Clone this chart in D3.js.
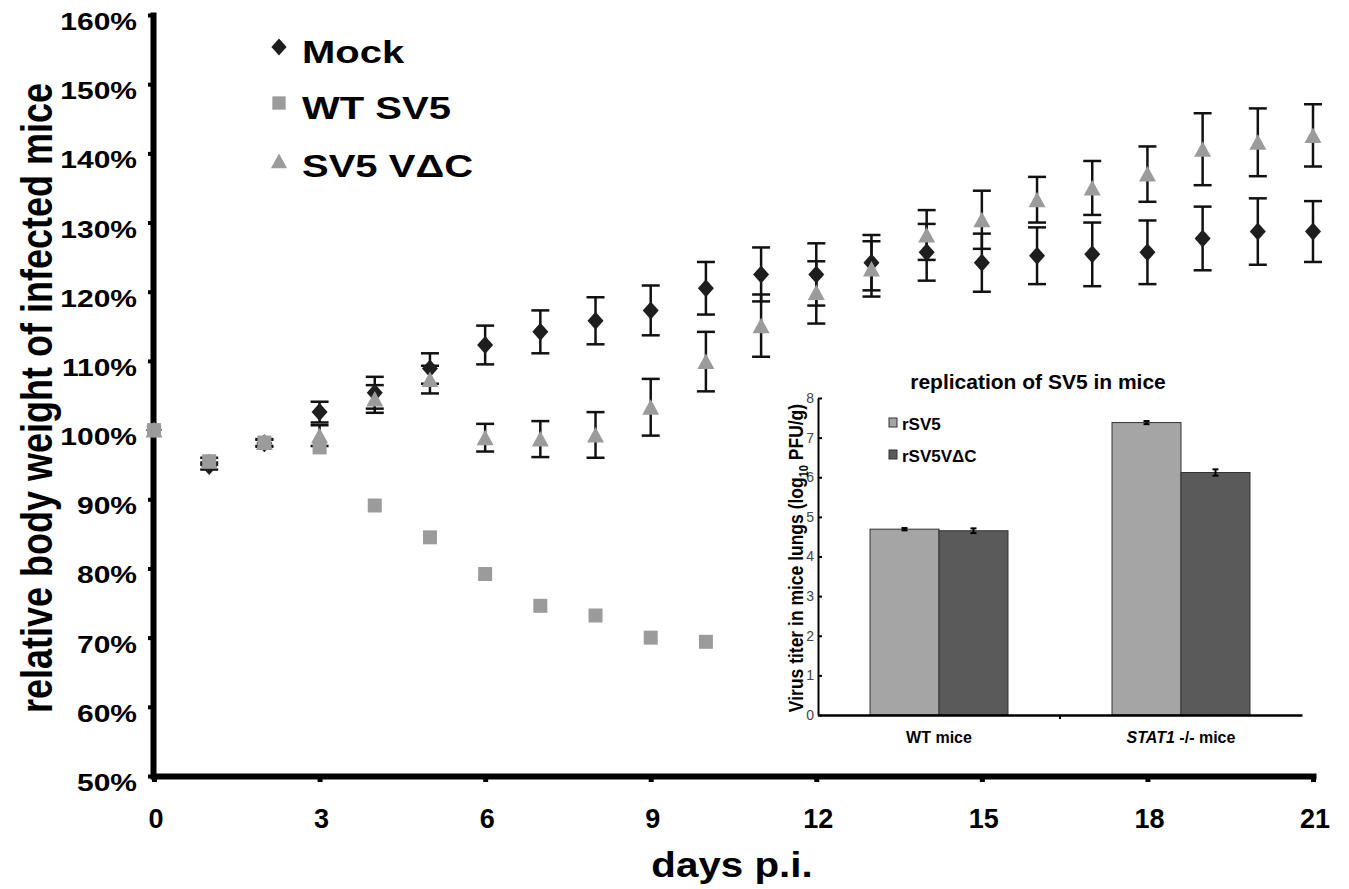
<!DOCTYPE html>
<html>
<head>
<meta charset="utf-8">
<script src="https://cdn.jsdelivr.net/npm/d3@7"></script>
<style>
body { margin: 0; background: #fff; }
text { font-family: Arial, "Liberation Sans", Helvetica, sans-serif; }
</style>
</head>
<body>
<div class="chart-container"></div>
<script>
const width = 1349;
const height = 889;

// main chart data (relative body weight, %)
const days = [0, 1, 2, 3, 4, 5, 6, 7, 8, 9, 10, 11, 12, 13, 14, 15, 16, 17, 18, 19, 20, 21];
const mock = [100, 94.8, 98.1, 102.6, 105.4, 108.9, 112.3, 114.2, 115.8, 117.3, 120.5, 122.5, 122.5, 124.2, 125.7, 124.2, 125.2, 125.4, 125.7, 127.7, 128.7, 128.7];
const mockErr = [0, 0.5, 0.5, 1.5, 2.3, 2.2, 2.8, 3.1, 3.4, 3.6, 3.8, 3.9, 4.5, 4.0, 4.1, 4.2, 4.1, 4.6, 4.6, 4.6, 4.8, 4.4];
const wtDays = [0, 1, 2, 3, 4, 5, 6, 7, 8, 9, 10];
const wtSV5 = [100, 95.5, 98.2, 97.5, 89.1, 84.5, 79.2, 74.6, 73.2, 70.0, 69.4];
const vdc = [100, 95.5, 98.2, 99.2, 104.5, 107.3, 98.9, 98.7, 99.3, 103.3, 109.9, 115.1, 119.9, 123.3, 128.2, 130.4, 133.3, 135.0, 137.0, 140.6, 141.6, 142.6];
const vdcErr = [0, 0.5, 0.5, 1.5, 2.0, 2.0, 2.0, 2.6, 3.3, 4.1, 4.3, 4.5, 4.5, 4.0, 3.6, 4.2, 3.3, 3.9, 4.0, 5.2, 4.9, 4.5];
const yTicks = [50, 60, 70, 80, 90, 100, 110, 120, 130, 140, 150, 160];
const xTicks = [0, 3, 6, 9, 12, 15, 18, 21];
const legendLabels = ["Mock", "WT SV5", "SV5 V\u0394C"];

// inset data (log10 PFU/g)
const insetGroups = ["WT mice", "STAT1 -/- mice"];
const insetSeries = ["rSV5", "rSV5V\u0394C"];
const titerRSV5 = [4.69, 7.38];
const titerRSV5Err = [0.03, 0.04];
const titerVdc = [4.65, 6.12];
const titerVdcErr = [0.06, 0.08];
const insetTicks = [0, 1, 2, 3, 4, 5, 6, 7, 8];

const dark = "#1e1e1e";
const gray = "#9b9b9b";

const shapes = {
    diamond: "M0,-9L8,0L0,9L-8,0Z",
    square: "M-7,-7H7V7H-7Z",
    triangle: "M0,-8L8.5,7.5H-8.5Z"
};

const svg = d3.select('.chart-container').append('svg')
    .attr('width', width)
    .attr('height', height);

const x = d3.scaleLinear().domain([0, 21]).range([154, 1313]);
const y = d3.scaleLinear().domain([50, 160]).range([776, 15]);

// stretched text helper (the figure is a bit wider than tall)
function stretchText(g, tx, ty, sx, rot) {
    return g.append('text')
        .attr('transform', `translate(${tx},${ty}) scale(${sx},1)` + (rot ? ` rotate(${rot})` : ''));
}

// y axis
const yAxisG = svg.append('g')
    .attr('transform', 'translate(153,0)')
    .call(d3.axisLeft(y).tickValues(yTicks).tickSize(5).tickSizeOuter(0).tickFormat(''));
yAxisG.select('.domain').attr('stroke-width', 6).attr('stroke-linecap', 'square');
yAxisG.selectAll('.tick line').attr('stroke-width', 4);

yTicks.forEach(v => {
    stretchText(svg, 137, y(v) + 15, 1.25, 0)
        .attr('text-anchor', 'end')
        .attr('font-size', '24px')
        .attr('font-weight', 'bold')
        .text(v + '%');
});

// x axis
const xAxisG = svg.append('g')
    .attr('transform', 'translate(0,' + y(50) + ')')
    .call(d3.axisBottom(x).tickValues(xTicks).tickSize(6).tickSizeOuter(0).tickFormat(''));
xAxisG.select('.domain').attr('stroke-width', 6).attr('stroke-linecap', 'square');
xAxisG.selectAll('.tick line').attr('stroke-width', 5);

svg.selectAll('.xlab').data(xTicks).enter().append('text')
    .attr('class', 'xlab')
    .attr('x', d => x(d) + 2)
    .attr('y', 828)
    .attr('text-anchor', 'middle')
    .attr('font-size', '27px')
    .attr('font-weight', 'bold')
    .text(d => d);

// axis titles
stretchText(svg, 732, 877, 1.12, 0)
    .attr('text-anchor', 'middle')
    .attr('font-size', '36px')
    .attr('font-weight', 'bold')
    .text('days p.i.');

stretchText(svg, 52, 398, 1.22, -90)
    .attr('text-anchor', 'middle')
    .attr('font-size', '36px')
    .attr('font-weight', 'bold')
    .text('relative body weight of infected mice');

// error bars
function drawErrors(values, errs) {
    const g = svg.append('g');
    values.forEach((v, i) => {
        const e = errs[i];
        if (!e) return;
        const cx = x(days[i]);
        g.append('line').attr('x1', cx).attr('x2', cx).attr('y1', y(v - e)).attr('y2', y(v + e))
            .attr('stroke', '#111').attr('stroke-width', 2.5);
        [v - e, v + e].forEach(w => {
            g.append('line').attr('x1', cx - 9).attr('x2', cx + 9).attr('y1', y(w)).attr('y2', y(w))
                .attr('stroke', '#111').attr('stroke-width', 2.5);
        });
    });
}
drawErrors(mock, mockErr);
drawErrors(vdc, vdcErr);

function drawMarkers(xs, values, shape, color) {
    svg.append('g').selectAll('path').data(values).enter().append('path')
        .attr('d', shapes[shape])
        .attr('transform', (d, i) => `translate(${x(xs[i])},${y(d)})`)
        .attr('fill', color);
}
drawMarkers(days, mock, 'diamond', dark);
drawMarkers(days, vdc, 'triangle', gray);
drawMarkers(wtDays, wtSV5, 'square', gray);

// legend
const legendShapes = ['diamond', 'square', 'triangle'];
const legendColors = [dark, gray, gray];
const legendY = [47, 103, 161];
legendLabels.forEach((lab, i) => {
    svg.append('path')
        .attr('d', shapes[legendShapes[i]])
        .attr('transform', `translate(279,${legendY[i]}) scale(0.95)`)
        .attr('fill', legendColors[i]);
    stretchText(svg, 302, legendY[i] + 16, 1.25, 0)
        .attr('font-size', '32px')
        .attr('font-weight', 'bold')
        .text(lab);
});

// ---- inset bar chart ----
const iy = d3.scaleLinear().domain([0, 8]).range([715, 398]);
const ix = d3.scaleBand().domain(insetGroups).range([818, 1302]);
const ixs = d3.scaleBand().domain(insetSeries).range([0, ix.bandwidth()]).paddingOuter(0.754);
const insetColors = ["#a5a5a5", "#5a5a5a"];
const insetValues = [titerRSV5, titerVdc];
const insetErrs = [titerRSV5Err, titerVdcErr];

const inset = svg.append('g');

insetSeries.forEach((s, si) => {
    insetGroups.forEach((grp, gi) => {
        const v = insetValues[si][gi];
        const bx = ix(grp) + ixs(s);
        inset.append('rect')
            .attr('x', bx)
            .attr('y', iy(v))
            .attr('width', ixs.bandwidth())
            .attr('height', iy(0) - iy(v))
            .attr('fill', insetColors[si])
            .attr('stroke', '#333')
            .attr('stroke-width', 1);
        const cx = bx + ixs.bandwidth() / 2;
        const e = insetErrs[si][gi];
        inset.append('line').attr('x1', cx).attr('x2', cx).attr('y1', iy(v - e)).attr('y2', iy(v + e))
            .attr('stroke', '#000').attr('stroke-width', 2);
        [v - e, v + e].forEach(w => {
            inset.append('line').attr('x1', cx - 3).attr('x2', cx + 3).attr('y1', iy(w)).attr('y2', iy(w))
                .attr('stroke', '#000').attr('stroke-width', 2);
        });
    });
});

const iyAxis = inset.append('g')
    .attr('transform', 'translate(818,0)')
    .call(d3.axisLeft(iy).tickValues(insetTicks).tickSizeInner(-4).tickSizeOuter(0).tickPadding(4));
iyAxis.select('.domain').attr('stroke-width', 2);
iyAxis.selectAll('.tick line').attr('stroke-width', 2);
iyAxis.selectAll('.tick text')
    .attr('font-size', '14px')
    .attr('fill', '#444')
    .attr('font-family', 'Arial, "Liberation Sans", sans-serif');

const ixAxis = inset.append('g')
    .attr('transform', 'translate(0,' + iy(0) + ')')
    .call(d3.axisBottom(ix).tickSize(0).tickFormat(''));
ixAxis.select('.domain').attr('stroke-width', 2.5);
inset.append('line')
    .attr('x1', ix(insetGroups[1])).attr('x2', ix(insetGroups[1]))
    .attr('y1', iy(0)).attr('y2', iy(0) + 4)
    .attr('stroke', '#000').attr('stroke-width', 2);

// category labels
inset.append('text')
    .attr('x', ix(insetGroups[0]) + ix.bandwidth() / 2)
    .attr('y', 743)
    .attr('text-anchor', 'middle')
    .attr('font-size', '16px')
    .attr('font-weight', 'bold')
    .text(insetGroups[0]);
const statLab = inset.append('text')
    .attr('x', ix(insetGroups[1]) + ix.bandwidth() / 2)
    .attr('y', 743)
    .attr('text-anchor', 'middle')
    .attr('font-size', '16px')
    .attr('font-weight', 'bold');
statLab.append('tspan').attr('font-style', 'italic').text('STAT1');
statLab.append('tspan').text(' -/- mice');

// inset title
inset.append('text')
    .attr('x', 1038)
    .attr('y', 389)
    .attr('text-anchor', 'middle')
    .attr('font-size', '21px')
    .attr('font-weight', 'bold')
    .text('replication of SV5 in mice');

// inset y title
const iyLab = stretchText(inset, 803, 558, 1.15, -90)
    .attr('text-anchor', 'middle')
    .attr('font-size', '17.5px')
    .attr('font-weight', 'bold');
iyLab.append('tspan').text('Virus titer in mice lungs (log');
iyLab.append('tspan').attr('font-size', '11px').attr('dy', 4).text('10');
iyLab.append('tspan').attr('dy', -4).text(' PFU/g)');

// inset legend
const insetLegendY = [423, 455];
insetSeries.forEach((s, i) => {
    inset.append('rect')
        .attr('x', 889)
        .attr('y', insetLegendY[i] - 5)
        .attr('width', 8)
        .attr('height', 9)
        .attr('fill', insetColors[i])
        .attr('stroke', '#333')
        .attr('stroke-width', 1);
    inset.append('text')
        .attr('x', 902)
        .attr('y', insetLegendY[i] + 7)
        .attr('font-size', '17px')
        .attr('font-weight', 'bold')
        .text(s);
});
</script>
</body>
</html>
